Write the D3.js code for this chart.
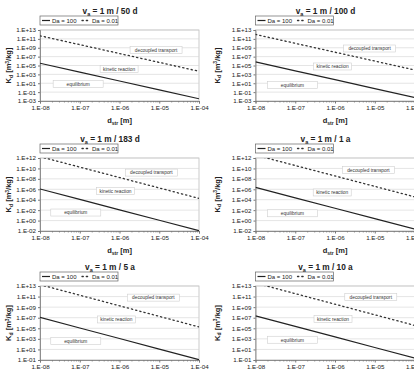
<!DOCTYPE html>
<html>
<head>
<meta charset="utf-8">
<script src="https://cdnjs.cloudflare.com/ajax/libs/d3/7.8.5/d3.min.js"></script>
<style>
  body { margin: 0; background: #fff; }
  svg { display: block; font-family: "Liberation Sans", Arial, sans-serif; }
</style>
</head>
<body>
<div id="chart"></div>
<script>
// panel titles (v_a = ...)
var velocities = ["1 m / 50 d", "1 m / 100 d", "1 m / 183 d", "1 m / 1 a", "1 m / 5 a", "1 m / 10 a"];

// grain size d_str [m]
var dStr = [1e-8, 1e-7, 1e-6, 1e-5, 1e-4];
var xTicks = [1e-8, 1e-7, 1e-6, 1e-5, 1e-4];

// Kd [m3/kg], Da = 100 (solid)
var kdDa100 = [
  [3.2e5, 3.2e3, 3.2e1, 3.2e-1, 3.2e-3],
  [6.3e5, 6.3e3, 6.3e1, 6.3e-1, 6.3e-3],
  [1.15e6, 1.15e4, 1.15e2, 1.15, 1.15e-2],
  [2.3e6, 2.3e4, 2.3e2, 2.3, 2.3e-2],
  [1.15e7, 1.15e5, 1.15e3, 1.15e1, 1.15e-1],
  [2.3e7, 2.3e5, 2.3e3, 2.3e1, 2.3e-1]
];

// Kd [m3/kg], Da = 0.01 (dotted)
var kdDa001 = [
  [5e11, 5e9, 5e7, 5e5, 5e3],
  [1e12, 1e10, 1e8, 1e6, 1e4],
  [1.8e12, 1.8e10, 1.8e8, 1.8e6, 1.8e4],
  [3.6e12, 3.6e10, 3.6e8, 3.6e6, 3.6e4],
  [1.8e13, 1.8e11, 1.8e9, 1.8e7, 1.8e5],
  [3.6e13, 3.6e11, 3.6e9, 3.6e7, 3.6e5]
];

// y axis range (exponents) per panel
var yMinExp = [-3, -3, -2, -2, -1, -1];
var yMaxExp = [13, 13, 12, 12, 13, 13];

// region labels [log10 d, log10 Kd]
var regionNames = ["decoupled transport", "kinetic reaction", "equilibrium"];
var regionPos = [
  [[-5.08, 8.5], [-6.01, 4.2], [-7.04, 0.84]],
  [[-5.13, 8.83], [-6.06, 4.78], [-7.07, 0.61]],
  [[-5.2, 9.2], [-6.1, 5.67], [-7.1, 1.54]],
  [[-5.16, 9.67], [-6.07, 5.39], [-7.07, 1.4]],
  [[-5.15, 10.8], [-6.08, 6.67], [-7.1, 2.6]],
  [[-5.1, 10.9], [-6.05, 6.76], [-7.07, 2.83]]
];
var regionBoxW = [52, 38, 50];

var W = 414, H = 373;
var colLeft = [40, 255.5];
var yTitleOff = [-29, -36];
var rowTop = [30, 158, 286];
var rowH = [71, 73, 74];
var plotW = 159;

var svg = d3.select("#chart").append("svg")
    .attr("width", W)
    .attr("height", H);

function fmtExp(v) {
  var e = Math.round(Math.log10(v));
  var s = Math.abs(e) < 10 ? "0" + Math.abs(e) : "" + Math.abs(e);
  return "1.E" + (e < 0 ? "-" : "+") + s;
}

velocities.forEach(function(vel, i) {
  var col = i % 2, row = Math.floor(i / 2);
  var left = colLeft[col], top = rowTop[row], h = rowH[row];

  var x = d3.scaleLog().domain([1e-8, 1e-4]).range([0, plotW]);
  var y = d3.scaleLog().domain([Math.pow(10, yMinExp[i]), Math.pow(10, yMaxExp[i])]).range([h, 0]);

  var yTicks = [];
  for (var e = yMinExp[i]; e <= yMaxExp[i]; e += 2) yTicks.push(Math.pow(10, e));

  var g = svg.append("g").attr("transform", "translate(" + left + "," + top + ")");

  // clip
  g.append("clipPath").attr("id", "clip" + i)
    .append("rect").attr("width", plotW).attr("height", h);

  // plot area
  g.append("rect").attr("width", plotW).attr("height", h)
    .attr("fill", "#fff").attr("stroke", "#bdbdbd").attr("stroke-width", 0.8);

  // gridlines
  g.selectAll(".grid").data(yTicks).enter().append("line")
    .attr("x1", 0).attr("x2", plotW)
    .attr("y1", function(d) { return y(d); })
    .attr("y2", function(d) { return y(d); })
    .attr("stroke", "#d4d4d4").attr("stroke-width", 0.6);

  // y axis
  var yAxis = g.append("g")
    .call(d3.axisLeft(y).tickValues(yTicks).tickFormat(fmtExp).tickSize(2).tickPadding(2));
  yAxis.select(".domain").attr("stroke", "#777").attr("stroke-width", 0.8);
  yAxis.selectAll(".tick line").attr("stroke", "#777");
  yAxis.selectAll("text").attr("font-size", 6.2).attr("fill", "#222");

  // x axis with minor ticks
  var minor = [];
  for (var k = -8; k < -4; k++)
    for (var m = 2; m < 10; m++) minor.push(m * Math.pow(10, k));
  var xMinor = g.append("g").attr("transform", "translate(0," + h + ")")
    .call(d3.axisBottom(x).tickValues(minor).tickFormat("").tickSize(1.5));
  xMinor.select(".domain").remove();
  xMinor.selectAll(".tick line").attr("stroke", "#999");

  var xAxis = g.append("g").attr("transform", "translate(0," + h + ")")
    .call(d3.axisBottom(x).tickValues(xTicks).tickFormat(fmtExp).tickSize(2.5).tickPadding(2));
  xAxis.select(".domain").attr("stroke", "#777").attr("stroke-width", 0.8);
  xAxis.selectAll(".tick line").attr("stroke", "#777");
  xAxis.selectAll("text").attr("font-size", 6.2).attr("fill", "#222");

  // series lines
  var line = d3.line()
    .x(function(d) { return x(d[0]); })
    .y(function(d) { return y(d[1]); });

  var plot = g.append("g").attr("clip-path", "url(#clip" + i + ")");

  plot.append("path")
    .datum(d3.zip(dStr, kdDa001[i]))
    .attr("d", line)
    .attr("fill", "none")
    .attr("stroke", "#333")
    .attr("stroke-width", 1.3)
    .attr("stroke-dasharray", "1.3,3")
    .attr("stroke-linecap", "round");

  plot.append("path")
    .datum(d3.zip(dStr, kdDa100[i]))
    .attr("d", line)
    .attr("fill", "none")
    .attr("stroke", "#222")
    .attr("stroke-width", 1.2);

  // region labels
  regionPos[i].forEach(function(p, j) {
    var cx = x(Math.pow(10, p[0])), cy = y(Math.pow(10, p[1]));
    g.append("rect")
      .attr("x", cx - regionBoxW[j] / 2).attr("y", cy - 3.5)
      .attr("width", regionBoxW[j]).attr("height", 7)
      .attr("fill", "#fff").attr("stroke", "#cfcfcf").attr("stroke-width", 0.6);
    g.append("text")
      .attr("x", cx).attr("y", cy + 1.8)
      .attr("text-anchor", "middle")
      .attr("font-size", 4.8).attr("fill", "#333")
      .text(regionNames[j]);
  });

  // title
  var title = g.append("text")
    .attr("x", 70).attr("y", -16)
    .attr("text-anchor", "middle")
    .attr("font-size", 8.3).attr("font-weight", "bold").attr("fill", "#222");
  title.append("tspan").text("v");
  title.append("tspan").attr("font-size", 5.5).attr("dy", 1.5).text("a");
  title.append("tspan").attr("dy", -1.5).text(" = " + vel);

  // legend
  var lg = g.append("g").attr("transform", "translate(0," + (-14) + ")");
  lg.append("rect").attr("width", 78).attr("height", 9)
    .attr("fill", "#fff").attr("stroke", "#666").attr("stroke-width", 0.7);
  lg.append("line").attr("x1", 2).attr("x2", 10).attr("y1", 4.5).attr("y2", 4.5)
    .attr("stroke", "#222").attr("stroke-width", 1.2);
  lg.append("text").attr("x", 12).attr("y", 6.8).attr("font-size", 6).attr("fill", "#222")
    .text("Da = 100");
  lg.append("line").attr("x1", 42).attr("x2", 50).attr("y1", 4.5).attr("y2", 4.5)
    .attr("stroke", "#333").attr("stroke-width", 1.3)
    .attr("stroke-dasharray", "1.3,3").attr("stroke-linecap", "round");
  lg.append("text").attr("x", 52).attr("y", 6.8).attr("font-size", 6).attr("fill", "#222")
    .text("Da = 0.01");

  // x axis title
  var xt = g.append("text")
    .attr("x", plotW / 2).attr("y", h + 22)
    .attr("text-anchor", "middle")
    .attr("font-size", 7.5).attr("font-weight", "bold").attr("fill", "#222");
  xt.append("tspan").text("d");
  xt.append("tspan").attr("font-size", 5).attr("dy", 1.5).text("str");
  xt.append("tspan").attr("dy", -1.5).text(" [m]");

  // y axis title
  var yt = g.append("text")
    .attr("transform", "translate(" + yTitleOff[col] + "," + (h / 2) + ") rotate(-90)")
    .attr("text-anchor", "middle")
    .attr("font-size", 7.5).attr("font-weight", "bold").attr("fill", "#222");
  yt.append("tspan").text("K");
  yt.append("tspan").attr("font-size", 5).attr("dy", 1.5).text("d");
  yt.append("tspan").attr("dy", -1.5).text(" [m");
  yt.append("tspan").attr("font-size", 5).attr("dy", -2.5).text("3");
  yt.append("tspan").attr("dy", 2.5).text("/kg]");
});
</script>
</body>
</html>
